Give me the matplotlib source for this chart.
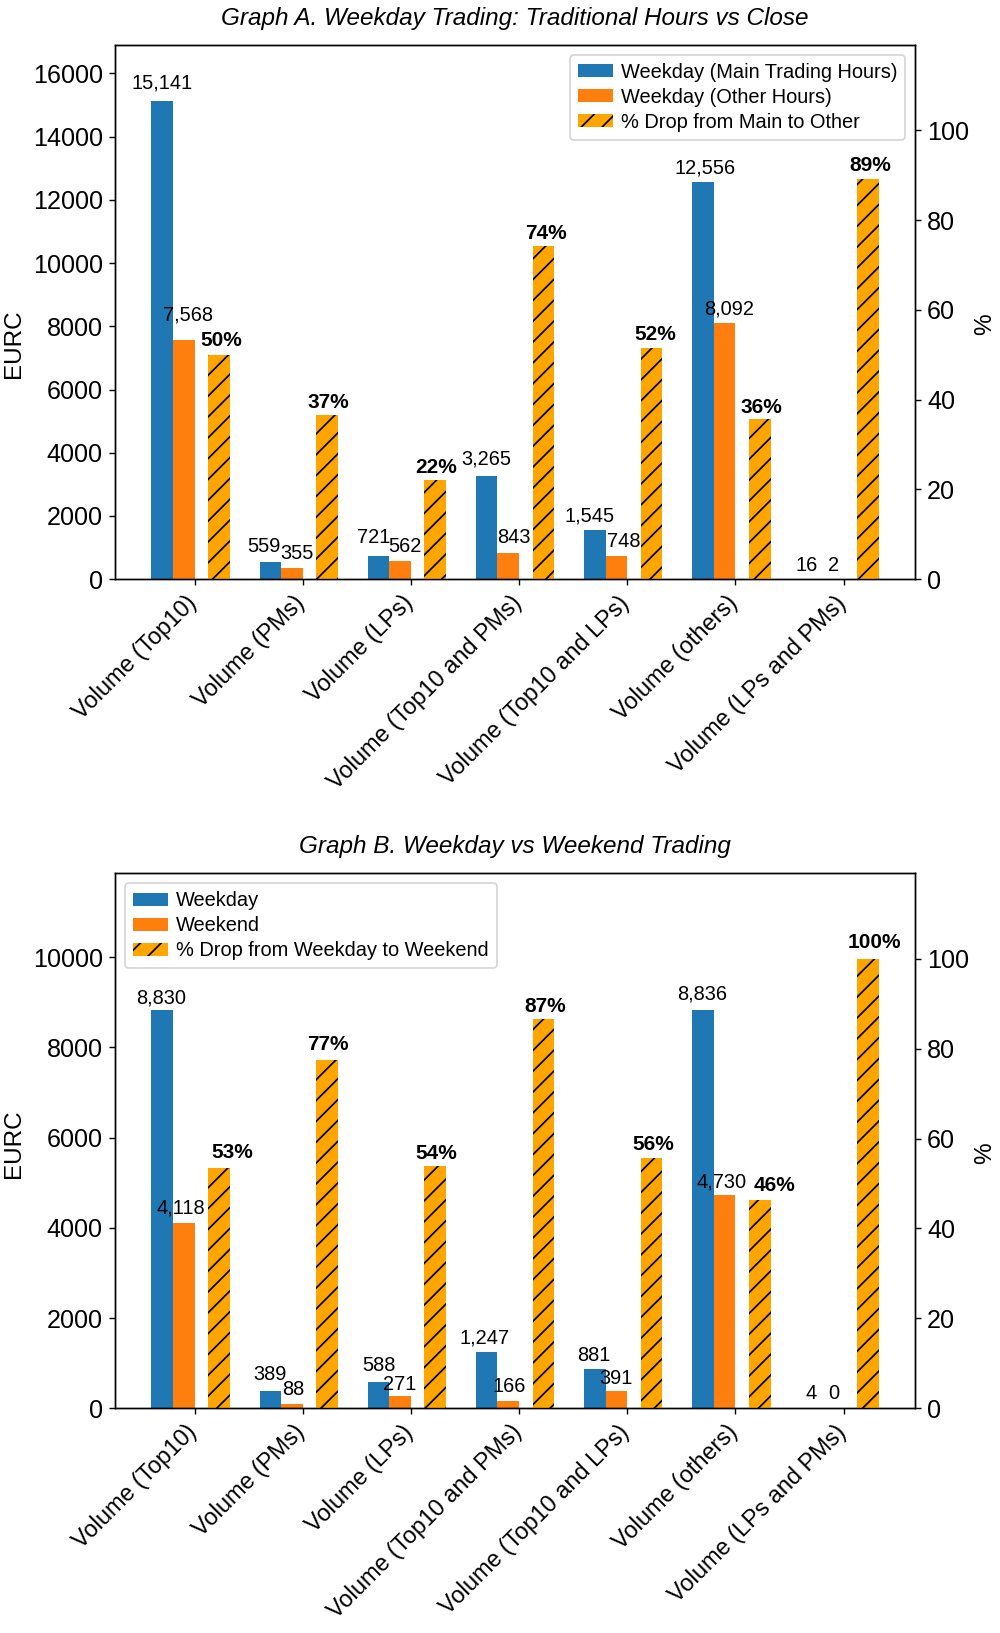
import numpy as np
import matplotlib
matplotlib.use("Agg")
import matplotlib.pyplot as plt
from matplotlib.transforms import ScaledTranslation

plt.rcParams['font.family'] = ['Liberation Sans', 'DejaVu Sans']
plt.rcParams['hatch.linewidth'] = 1.0

categories = ['Volume (Top10)', 'Volume (PMs)', 'Volume (LPs)', 'Volume (Top10 and PMs)',
              'Volume (Top10 and LPs)', 'Volume (others)', 'Volume (LPs and PMs)']

# Graph A
main_hours = [15141, 559, 721, 3265, 1545, 12556, 16]
other_hours = [7568, 355, 562, 843, 748, 8092, 2]
drop_a = [50.0, 36.6, 22.1, 74.2, 51.6, 35.6, 89.1]

# Graph B
weekday = [8830, 389, 588, 1247, 881, 8836, 4]
weekend = [4118, 88, 271, 166, 391, 4730, 0]
drop_b = [53.4, 77.4, 53.9, 86.7, 55.6, 46.4, 100.0]

# label nudges in pixels (dx, dy) - labels were spread out by hand
off_a = [[(0, 11.7), (-6.3, 9.3), (-5.1, 13.4), (-0.6, 11), (-5.2, 9), (2.5, 8.3), (-5, 8.1)],
         [(3.8, 19.6), (5.2, 9), (4.9, 9), (5.2, 9.3), (6.9, 8.7), (4.8, 9.3), (1.2, 8.5)],
         [(2.5, 8.6), (1.2, 7), (0.8, 7.3), (2.8, 7), (3.3, 8), (2, 6.6), (2.7, 8.3)]]
off_b = [[(-1, 7), (-0.7, 10.5), (0.3, 10.6), (-1.7, 9), (-0.7, 8), (-0.7, 10), (-0.2, 9)],
         [(-3, 9), (1.2, 9.5), (-0.8, 6), (0.7, 9), (-0.3, 7), (-3.4, 7.7), (0.7, 9)],
         [(13, 10), (1, 10.6), (1, 7), (2, 7), (2, 8.6), (14.5, 9), (6.2, 10.3)]]

BLUE = '#1f77b4'
ORANGE = '#ff7f0e'
HATCH = 'orange'

fig = plt.figure(figsize=(8, 13.064), dpi=125)


def panel(rect, v1, v2, pct, names, title, ymax, offs, legloc, ylab_y):
    x = np.arange(len(categories))
    ax = fig.add_axes(rect)
    ax2 = ax.twinx()

    b1 = ax.bar(x - 0.3, v1, 0.2, color=BLUE, label=names[0])
    b2 = ax.bar(x - 0.1, v2, 0.2, color=ORANGE, label=names[1])
    b3 = ax2.bar(x + 0.225, pct, 0.2, color=HATCH, hatch='//', edgecolor='black',
                 linewidth=0, label=names[2])

    for i in range(len(x)):
        ax.annotate(f"{v1[i]:,}", (x[i] - 0.3, v1[i]), xytext=offs[0][i],
                    textcoords='offset pixels', ha='center', va='baseline', fontsize=11.5)
        ax.annotate(f"{v2[i]:,}", (x[i] - 0.1, v2[i]), xytext=offs[1][i],
                    textcoords='offset pixels', ha='center', va='baseline', fontsize=11.5)
        ax2.annotate(f"{pct[i]:.0f}%", (x[i] + 0.225, pct[i]), xytext=offs[2][i],
                     textcoords='offset pixels', ha='center', va='baseline',
                     fontsize=12, fontweight='bold')

    ax.set_ylim(0, ymax)
    ax2.set_ylim(0, 119)
    ax.set_xlim(-0.736, 6.66)
    ax.set_xticks(x)
    ax.set_xticklabels(categories, rotation=45, ha='right', fontsize=13.5)
    shift = ScaledTranslation(7 / 125, 0, fig.dpi_scale_trans)
    for lab in ax.get_xticklabels():
        lab.set_transform(lab.get_transform() + shift)
    ax.tick_params(axis='y', labelsize=14.5)
    ax2.tick_params(axis='y', labelsize=14.5)
    ax.set_ylabel('EURC', fontsize=14)
    ax.yaxis.set_label_coords(-0.113, ylab_y)
    ax2.set_ylabel('%', fontsize=14)
    ax2.yaxis.set_label_coords(1.074, 0.477)
    ax.set_title(title, style='italic', fontsize=14, pad=11.5)

    ax2.legend([b1, b2, b3], names, loc=legloc, fontsize=11.5,
               handlelength=1.75, handleheight=0.6, handletextpad=0.4,
               labelspacing=0.3)
    return ax, ax2


panel([0.115, 0.6453, 0.8, 0.3272], main_hours, other_hours, drop_a,
      ['Weekday (Main Trading Hours)', 'Weekday (Other Hours)', '% Drop from Main to Other'],
      'Graph A. Weekday Trading: Traditional Hours vs Close', 16900, off_a, 'upper right', 0.44)

panel([0.115, 0.1376, 0.8, 0.3276], weekday, weekend, drop_b,
      ['Weekday', 'Weekend', '% Drop from Weekday to Weekend'],
      'Graph B. Weekday vs Weekend Trading', 11860, off_b, 'upper left', 0.495)

fig.savefig('out.png', dpi=125)
